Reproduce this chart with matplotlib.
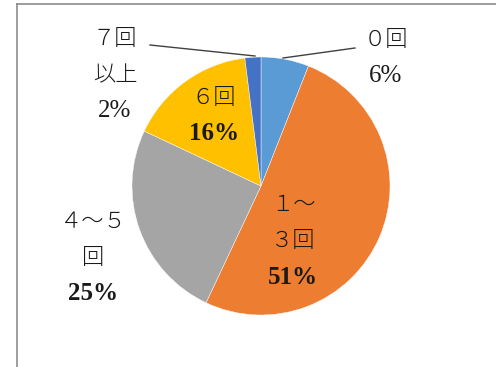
import matplotlib.pyplot as plt
from matplotlib.lines import Line2D

# 回数ごとの割合
labels = ['０回', '１～\n３回', '４～５\n回', '６回', '７回\n以上']
values = [6, 51, 25, 16, 2]
colors = ['#5B9BD5', '#ED7D31', '#A5A5A5', '#FFC000', '#4472C4']

# ラベルの位置 (ピクセル, 上が0)
label_pos = [(386, 40), (293, 205), (93, 222), (214, 98), (115, 39)]
bold_pct = [False, True, True, True, False]

W, H = 496, 367
fig = plt.figure(figsize=(W / 100, H / 100), dpi=100)
ax = fig.add_axes([0, 0, 1, 1])

cx, cy, r = 261, H - 186, 129
ax.pie(values, colors=colors, startangle=90, counterclock=False,
       center=(cx, cy), radius=r, frame=True,
       wedgeprops=dict(edgecolor='white', linewidth=0.3))
ax.set_xlim(0, W)
ax.set_ylim(0, H)
ax.set_aspect('equal')
ax.axis('off')

cjk = ['Noto Sans CJK JP', 'DejaVu Sans']
serif = ['Liberation Serif', 'Noto Sans CJK JP']
step = 36
for lab, v, (x, y), b in zip(labels, values, label_pos, bold_pct):
    lines = lab.split('\n')
    for i, t in enumerate(lines):
        ax.text(x, H - (y + i * step), t, ha='center', va='center',
                fontsize=16, family=cjk, fontweight='light', color='#1a1a1a')
    ax.text(x, H - (y + len(lines) * step), f'{v}%', ha='center', va='center',
            fontsize=18, family=serif, color='#1a1a1a',
            fontweight='bold' if b else 'normal')

# 引き出し線
ax.plot([150, 255], [H - 45, H - 56], color='#404040', lw=1)
ax.plot([283, 355], [H - 58, H - 48], color='#404040', lw=1)

# グラフエリアの枠
fig.add_artist(Line2D([17 / W, 1], [1 - 4 / H, 1 - 4 / H], color='#8C8C8C', lw=1.2,
                      transform=fig.transFigure))
fig.add_artist(Line2D([17 / W, 17 / W], [0, 1 - 4 / H], color='#8C8C8C', lw=1.2,
                      transform=fig.transFigure))

fig.savefig('out.png', dpi=100)
